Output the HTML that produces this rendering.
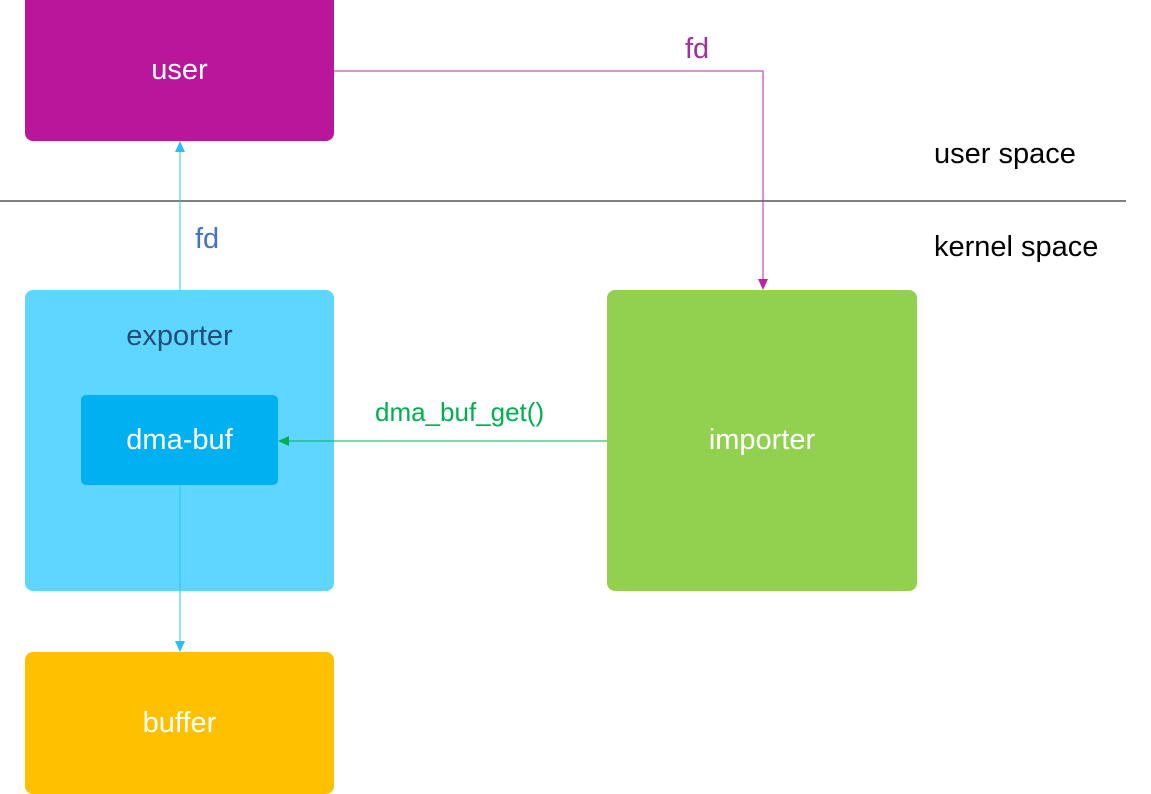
<!DOCTYPE html>
<html><head><meta charset="utf-8"><style>
body{margin:0;width:1151px;height:794px;background:#fff;position:relative;overflow:hidden;font-family:"Liberation Sans",sans-serif}
.b{position:absolute;border-radius:8px;display:flex;justify-content:center;align-items:center;color:#fff;font-size:29px}
.t{position:absolute;font-size:29px;white-space:nowrap}
</style></head><body>
<div class="b" style="left:25px;top:0;width:309px;height:141px;background:#B9169B;border-radius:0 0 8px 8px">user</div>
<div class="b" style="left:25px;top:290px;width:309px;height:301px;background:#5FD6FF;align-items:flex-start"><span style="margin-top:30px;color:#1F4E79">exporter</span></div>
<div class="b" style="left:81px;top:395px;width:197px;height:90px;background:#00B0F0;border-radius:5px">dma-buf</div>
<div class="b" style="left:25px;top:652px;width:309px;height:142px;background:#FFC000">buffer</div>
<div class="b" style="left:607px;top:290px;width:310px;height:301px;background:#92D050">importer</div>
<div class="t" style="left:934px;top:138px">user space</div>
<div class="t" style="left:934px;top:231px">kernel space</div>
<div class="t" style="left:685px;top:33px;color:#A0309A">fd</div>
<div class="t" style="left:195px;top:223px;color:#4472C4">fd</div>
<div class="t" style="left:375px;top:397px;color:#00B050;font-size:26px">dma_buf_get()</div>
<svg width="1151" height="794" style="position:absolute;left:0;top:0">
<line x1="0" y1="201" x2="1126" y2="201" stroke="#000" stroke-width="1"/>
<polyline points="334,71 763,71 763,280" fill="none" stroke="#C020A8" stroke-width="1"/>
<polygon points="758,279 768,279 763,290" fill="#C020A8"/>
<line x1="180" y1="290" x2="180" y2="151" stroke="#28C0F0" stroke-width="1"/>
<polygon points="175,152 185,152 180,141" fill="#28C0F0"/>
<line x1="607" y1="441" x2="288" y2="441" stroke="#00B050" stroke-width="1"/>
<polygon points="289,436 289,446 278,441" fill="#00B050"/>
<line x1="180" y1="485" x2="180" y2="642" stroke="#28C0F0" stroke-width="1"/>
<polygon points="175,641 185,641 180,652" fill="#28C0F0"/>
</svg>
</body></html>
